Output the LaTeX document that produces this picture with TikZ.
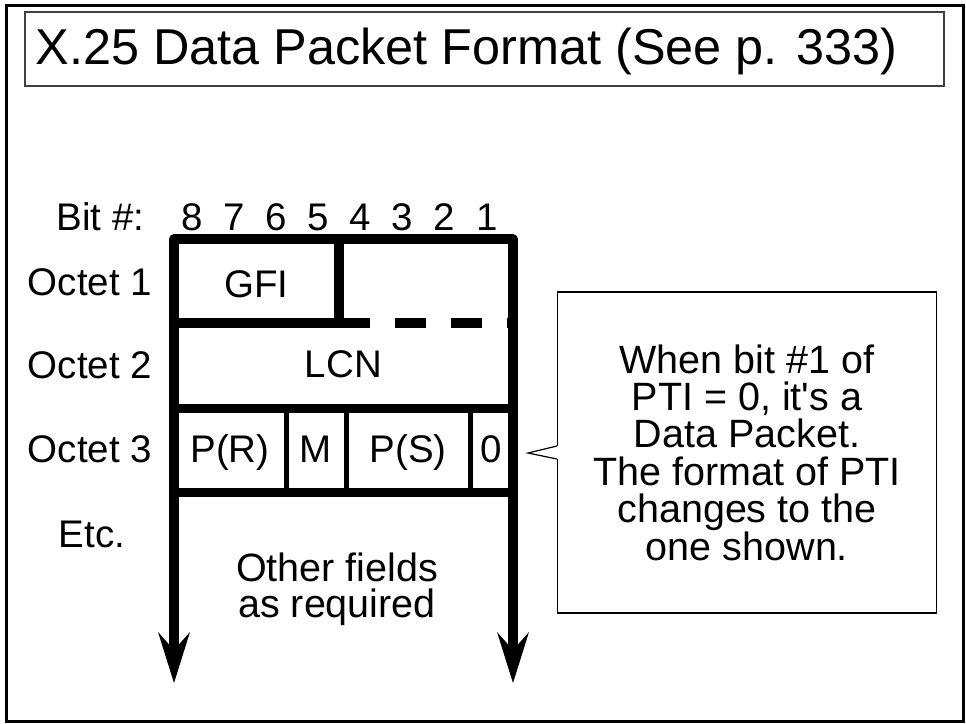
\documentclass[tikz,border=0pt]{standalone}
\usepackage{fontspec}
\setmainfont{Liberation Sans}
\usetikzlibrary{arrows.meta}
\begin{document}
\begin{tikzpicture}[>={Stealth[length=51pt,width=32pt,inset=18pt,line width=0pt]},x=1pt,y=-1pt,
	lbl/.style={inner sep=0pt,anchor=base,font=\fontsize{38.5}{40}\selectfont},
	note/.style={inner sep=0pt,align=center,font=\fontsize{39.5}{37.4}\selectfont}]
	\def\L{174} % left, right and GFI edge of the packet
	\def\R{513}
	\def\G{339}
	\useasboundingbox (0,0) rectangle (966,723);
	\draw[line width=3pt] (6,5) rectangle (963,721);
	\draw[black!75,line width=1.2pt] (25,12) rectangle (944,86);
	\node[inner sep=0pt,anchor=base west,font=\fontsize{50.4}{60}\selectfont] (title) at (35.5,64) {X.25 Data Packet Format (See p. 333)};
	\node[lbl] (bitno) at (100.5,230) {Bit \#:};
	\foreach \b in {8,...,1}
		\node[lbl] (bit\b) at ({192.3+42.06*(8-\b)},230) {\b};
	\draw[line width=9.5pt,line join=round,<->] (\L,683) -- (\L,239) -- (\R,239) -- (\R,683);
	\draw[line width=9.5pt] (\G,239) -- (\G,323) (\L,323) -- (\G,323);
	\draw[line width=9.5pt,dash pattern=on 31pt off 25pt] (\G,323) -- (\R,323);
	\draw[line width=9pt] (\L,408) -- (\R,408) (\L,492) -- (\R,492);
	\foreach \x in {286,346,470}
		\draw[line width=5pt] (\x,408) -- (\x,492);
	\node[lbl] (oct1) at (90,295) {Octet 1};
	\node[lbl] (oct2) at (90,378) {Octet 2};
	\node[lbl] (oct3) at (90,462) {Octet 3};
	\node[lbl] (etc) at (92,547) {Etc.};
	\node[lbl] (gfi) at (256.5,297) {GFI};
	\node[lbl] (lcn) at (343.5,377) {LCN};
	\node[lbl] (pr) at (230,462) {P(R)};
	\node[lbl] (m) at (316,462) {M};
	\node[lbl] (ps) at (408,462) {P(S)};
	\node[lbl] (zero) at (491.5,462) {0};
	\node[note,font=\fontsize{39.5}{35.5}\selectfont] (other) at (337,589.4) {Other fields\\as required};
	\node[note,draw,line width=1.2pt,minimum width=379pt,minimum height=321pt] (pti) at (747,452.5)
		{When bit \#1 of\\PTI = 0, it\textquotesingle s a\\Data Packet.\\The format of PTI\\changes to the\\one shown.};
	\coordinate (tip) at (528,453);
	\fill[white] ([yshift=6.5pt,xshift=1.5pt]pti.west) -- (tip) -- ([yshift=-6.5pt,xshift=1.5pt]pti.west) -- cycle;
	\draw[line width=1.2pt] ([yshift=6.5pt]pti.west) -- (tip) -- ([yshift=-6.5pt]pti.west);
\end{tikzpicture}
\end{document}
